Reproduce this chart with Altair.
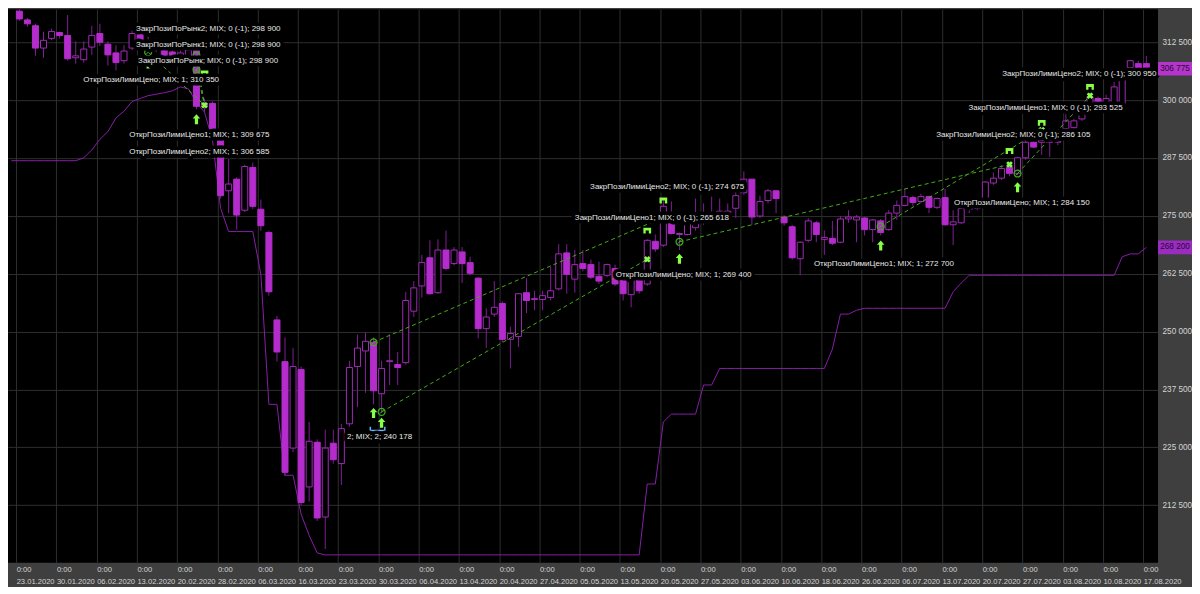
import json
import altair as alt
import pandas as pd

# ---------------- data ----------------
OPEN = [319211, 317323, 316065, 311242, 313339, 314597, 313968, 309145, 308726, 311452,
        314388, 312081, 310194, 308516, 311242, 314178, 311242, 311242, 310823, 310403,
        308726, 309145, 310823, 298660, 299289, 291320, 280416, 282933, 276222, 285449,
        276432, 271399, 252526, 243509, 224845, 241832, 216457, 226104, 209957, 225894,
        221490, 230088, 242460, 245816, 247703, 236589, 243509, 242880, 243299, 254413,
        259866, 265947, 258398, 267624, 264689, 267205, 264898, 261543, 250639, 253784,
        256091, 248332, 248961, 258398, 256930, 256930, 257349, 259236, 266995, 261334,
        264689, 264479, 261963, 262172, 263640, 261124, 257978, 261334, 260285, 269512,
        268673, 273706, 270980, 270980, 272448, 275174, 273915, 275174, 275174, 276642,
        279997, 282933, 274964, 278319, 280416, 274754, 272657, 265737, 269721, 273496,
        269931, 270141, 269302, 274335, 274125, 274545, 272028, 273915, 272028, 275593,
        277271, 278948, 278109, 279158, 276851, 278948, 273077, 273496, 276432, 276642,
        278529, 282094, 283142, 285449, 284191, 287546, 290901, 290901, 290901, 290901,
        293837, 294047, 295934, 299289, 300338, 299079, 299079, 299289, 307048, 307887,
        307887]
HIGH = [319630, 317743, 316485, 314807, 315436, 314807, 318372, 312710, 312710, 316065,
        316485, 312710, 311871, 311871, 315017, 314807, 313759, 313339, 311661, 311242,
        310823, 311661, 311661, 300338, 299709, 292159, 287546, 283352, 286078, 286497,
        278529, 271818, 253365, 248751, 246445, 242460, 230507, 226733, 228830, 228830,
        230088, 243719, 249381, 249800, 248751, 243719, 249381, 245606, 258607, 260914,
        266576, 269721, 269931, 271818, 268254, 268254, 266156, 261753, 255042, 260914,
        256510, 251058, 258188, 261543, 258817, 258817, 264060, 268883, 268883, 267624,
        267624, 265527, 265108, 264689, 264479, 261753, 261753, 263011, 269931, 270980,
        278319, 278109, 271399, 275593, 278739, 277690, 279158, 278739, 277690, 281255,
        284610, 282933, 279368, 280836, 280626, 275174, 273077, 269512, 274545, 273915,
        271818, 273915, 274964, 276222, 275174, 274754, 274335, 274335, 276222, 278319,
        280836, 279368, 279787, 279368, 278948, 280836, 276222, 277061, 277690, 278739,
        282513, 284400, 285868, 286497, 287756, 291320, 291320, 293837, 293837, 292369,
        297192, 295934, 299079, 301596, 300757, 301176, 303903, 304951, 308726, 308516,
        309564]
LOW = [317114, 315855, 309564, 309145, 312920, 313339, 308516, 307887, 308097, 309774,
       311661, 307467, 306419, 307887, 310823, 312291, 310194, 310403, 308726, 308097,
       307467, 308097, 298031, 297402, 292998, 278739, 275593, 272028, 275803, 276432,
       271818, 257769, 243509, 218764, 224006, 212473, 213312, 209118, 203037, 221490,
       216877, 229459, 233653, 236799, 234283, 232395, 238477, 238477, 242880, 253155,
       257349, 257978, 258188, 263221, 264269, 260495, 262172, 248542, 246445, 253155,
       247703, 242041, 246654, 253994, 254623, 254623, 256720, 258817, 258188, 258398,
       263011, 261334, 260285, 261753, 259866, 256720, 255252, 258188, 259866, 267205,
       268254, 270980, 267624, 270770, 271818, 273077, 273496, 274754, 274754, 274545,
       279578, 273077, 274545, 277690, 275593, 272867, 265527, 262172, 269302, 269302,
       266576, 268673, 269092, 273496, 269302, 270770, 269302, 270770, 271818, 274125,
       277061, 277061, 277690, 275593, 276432, 272867, 268673, 273286, 275593, 276222,
       277690, 281674, 282723, 283562, 283771, 287127, 289643, 288175, 287756, 290272,
       293418, 293837, 295515, 298660, 299079, 298660, 298660, 299079, 306629, 306629,
       306419]
CLOSE = [317533, 316485, 311242, 312920, 314807, 313968, 308935, 309564, 311032, 313968,
         312500, 309774, 308097, 310613, 314388, 312920, 312710, 312710, 309564, 309145,
         310194, 310823, 298660, 299289, 293837, 279368, 281884, 275174, 285659, 277061,
         272867, 258607, 245606, 219603, 242460, 213102, 226313, 209747, 224845, 222329,
         229040, 242251, 246445, 247913, 237219, 242041, 243719, 242251, 256720, 259446,
         264898, 258188, 267624, 263640, 267624, 264689, 262592, 250639, 253155, 255252,
         248332, 249590, 258188, 256720, 257139, 257769, 258817, 266786, 262382, 264479,
         263640, 261753, 260914, 264479, 260285, 258188, 261543, 258817, 269721, 267834,
         277061, 271189, 271189, 274545, 274964, 273915, 275593, 276012, 276012, 279368,
         282933, 274754, 278109, 280416, 278739, 273496, 265947, 269302, 273915, 270980,
         270350, 269092, 274335, 274754, 274754, 272028, 274125, 271399, 275593, 277271,
         279158, 277900, 279158, 276851, 278739, 273077, 273706, 276642, 276851, 278109,
         282303, 283142, 285239, 284191, 287546, 290901, 289853, 291320, 291320, 291111,
         295515, 295515, 298031, 300757, 299289, 300338, 302854, 304532, 308516, 307048,
         306775]
# trailing line: one value for the bar before the first visible candle, then one per bar
TRAIL = [286917,
         286917, 286917, 286917, 286917, 286917, 286917, 286917, 286917, 287546, 289223,
         291530, 293208, 296144, 297612, 299709, 300338, 300967, 301281, 301596, 302015,
         302854, 302435, 299499, 297402, 291320, 276642, 271609, 271609, 271609, 271609,
         262382, 234283, 234283, 218974, 218974, 210586, 205973, 202198, 201777, 201777,
         201777, 201777, 201777, 201777, 201777, 201777, 201777, 201777, 201777, 201777,
         201777, 201777, 201777, 201777, 201777, 201777, 201777, 201777, 201777, 201777,
         201777, 201777, 201777, 201777, 201777, 201777, 201777, 201777, 201777, 201777,
         201777, 201777, 201777, 201777, 201777, 201777, 201777, 201777, 217086, 217086,
         230507, 232185, 232185, 232185, 232185, 238477, 238477, 242041, 242041, 242041,
         242041, 242041, 242041, 242041, 242041, 242041, 242041, 242041, 242041, 242041,
         242041, 246236, 253784, 253784, 254623, 255042, 255042, 255042, 255042, 255042,
         255042, 255042, 255042, 255042, 255042, 255042, 258607, 260495, 262172, 262172,
         262172, 262172, 262172, 262172, 262172, 262172, 262172, 262172, 262172, 262172,
         262172, 262172, 262172, 262172, 262172, 262172, 262172, 266156, 266786, 266786,
         268200]

DATES = ["23.01.2020", "30.01.2020", "06.02.2020", "13.02.2020", "20.02.2020",
         "28.02.2020", "06.03.2020", "16.03.2020", "23.03.2020", "30.03.2020",
         "06.04.2020", "13.04.2020", "20.04.2020", "27.04.2020", "05.05.2020",
         "13.05.2020", "20.05.2020", "27.05.2020", "03.06.2020", "10.06.2020",
         "18.06.2020", "26.06.2020", "06.07.2020", "13.07.2020", "20.07.2020",
         "27.07.2020", "03.08.2020", "10.08.2020", "17.08.2020"]
TIME_LABEL = "0:00"
Y_TICKS = [212500, 225000, 237500, 250000, 262500, 275000, 287500, 300000, 312500]

# trades: entry bar/price -> exit bar/price
ENTRY_BAR = [16, 22, 22, 44, 45, 82, 107, 124]
ENTRY_PRICE = [310350, 309675, 306585, 247700, 232656, 269400, 272700, 284150]
EXIT_BAR = [23, 23, 23, 80, 78, 123, 127, 133]
EXIT_PRICE = [298900, 298900, 298900, 274675, 265618, 286105, 293525, 300950]

ARROW_BAR = [16, 22, 44, 45, 82, 107, 124]
ARROW_PRICE = [307887, 295871, 232395, 230297, 265737, 268603, 281192]
FLAG_BAR = [23, 78, 80, 123, 127, 133]
FLAG_PRICE = [305790, 271818, 278319, 289014, 295095, 302854]
BRACKET_BAR = [43.6, 43.6, 45.4, 45.4]
BRACKET_PRICE = [229459, 228620, 228620, 229459]

LABEL_TEXT = [
    "ЗакрПозиПоРынк2; MIX; 0 (-1); 298 900",
    "ЗакрПозиПоРынк1; MIX; 0 (-1); 298 900",
    "ЗакрПозиПоРынк; MIX; 0 (-1); 298 900",
    "ОткрПозиЛимиЦено; MIX; 1; 310 350",
    "ОткрПозиЛимиЦено1; MIX; 1; 309 675",
    "ОткрПозиЛимиЦено2; MIX; 1; 306 585",
    "2; MIX; 2; 240 178",
    "ЗакрПозиЛимиЦено2; MIX; 0 (-1); 274 675",
    "ЗакрПозиЛимиЦено1; MIX; 0 (-1); 265 618",
    "ОткрПозиЛимиЦено; MIX; 1; 269 400",
    "ОткрПозиЛимиЦено1; MIX; 1; 272 700",
    "ОткрПозиЛимиЦено; MIX; 1; 284 150",
    "ЗакрПозиЛимиЦено2; MIX; 0 (-1); 286 105",
    "ЗакрПозиЛимиЦено1; MIX; 0 (-1); 293 525",
    "ЗакрПозиЛимиЦено2; MIX; 0 (-1); 300 950",
]
LABEL_BAR = [14.5, 14.5, 14.75, 7.95, 13.65, 13.65, 40.7, 70.9, 69.0, 74.1, 98.7,
             116.1, 113.9, 117.9, 122.1]
LABEL_PRICE = [315436, 311871, 308516, 304322, 292369, 288804, 227152, 281255, 274545,
               262172, 264689, 277690, 292369, 298241, 305580]

TAG_PRICE = [306775, 268200]
TAG_TEXT = ["306 775", "268 200"]
TAG_COLOR = ["#b434cc", "#9a2cc2"]

# ---------------- styling ----------------
FONT = "Liberation Sans, Arial, sans-serif"
BG = "#3f3f3f"
GRID = "#2e2e2e"
AXIS_TXT = "#d4d4d4"
BODY = "#b42ccc"
HOLLOW = "#a02ab6"
WICK = "#7e1f94"
TRAIL_C = "#861fa8"
DASH = "#45a81c"
BRIGHT = "#86ff46"
CIRC = "#3fae1f"
TXT = "#e8e8e8"

XDOM = [-0.79, 140.83]
YDOM = [200070, 319630]

n = len(CLOSE)
bars = pd.DataFrame({"idx": list(range(n)), "open": OPEN, "high": HIGH, "low": LOW,
                     "close": CLOSE})
trail_df = pd.DataFrame({"idx": list(range(-1, n)), "trail": TRAIL})

label_expr = "['" + TIME_LABEL + "', " + json.dumps(DATES) + "[round((datum.value + 0.4) / 5)]]"
xaxis = alt.Axis(values=[5 * i - 0.4 for i in range(len(DATES))], labelExpr=label_expr,
                 title=None, grid=True, gridColor=GRID, gridWidth=1, ticks=False,
                 domain=False, labelAlign="left", labelBaseline="top", labelPadding=3,
                 labelColor=AXIS_TXT, labelFont=FONT, labelFontSize=7.6,
                 labelLineHeight=11.5, labelOverlap=False, labelFlush=False,
                 labelBound=False, minExtent=24, maxExtent=24)
yaxis = alt.Axis(values=Y_TICKS, orient="right",
                 labelExpr="replace(format(datum.value, ','), ',', ' ')",
                 title=None, grid=True, gridColor=GRID, gridWidth=1, ticks=False,
                 domain=False, labelPadding=4, labelColor=AXIS_TXT, labelFont=FONT,
                 labelFontSize=8.2, labelAlign="left", labelBaseline="middle",
                 minExtent=33, maxExtent=33)


def X(field):
    return alt.X(field, type="quantitative",
                 scale=alt.Scale(domain=XDOM, nice=False, zero=False), axis=xaxis)


def Y(field):
    return alt.Y(field, type="quantitative",
                 scale=alt.Scale(domain=YDOM, nice=False, zero=False), axis=yaxis)


base = alt.Chart(bars)
trail = alt.Chart(trail_df).mark_line(color=TRAIL_C, strokeWidth=1, clip=True).encode(
    x=X("idx"), y=Y("trail"))
wicks = base.mark_rule(color=WICK, strokeWidth=1).encode(x=X("idx"), y=Y("low"), y2="high")
bodies = base.mark_bar(size=6, strokeWidth=1).encode(
    x=X("idx"), y=Y("open"), y2="close",
    fill=alt.condition("datum.close >= datum.open", alt.value("#000000"), alt.value(BODY)),
    stroke=alt.condition("datum.close >= datum.open", alt.value(HOLLOW), alt.value(BODY)),
)

rows = []
for k, (eb, ep, xb, xp) in enumerate(zip(ENTRY_BAR, ENTRY_PRICE, EXIT_BAR, EXIT_PRICE)):
    rows.append({"trade": k, "seq": 0, "idx": eb, "price": ep})
    rows.append({"trade": k, "seq": 1, "idx": xb, "price": xp})
trades = pd.DataFrame(rows)
trade_lines = alt.Chart(trades).mark_line(color=DASH, strokeWidth=1, strokeDash=[4, 3]).encode(
    x=X("idx"), y=Y("price"), detail="trade:N", order="seq:Q")

entries = pd.DataFrame({"idx": ENTRY_BAR, "price": ENTRY_PRICE})
circles = alt.Chart(entries).mark_point(shape="circle", size=48, filled=False, color=CIRC,
                                        strokeWidth=1.2, opacity=1).encode(x=X("idx"), y=Y("price"))
slashes = alt.Chart(entries).mark_point(shape="M-0.5,0.5L0.5,-0.5", size=48, filled=False,
                                        color=CIRC, strokeWidth=1, opacity=1).encode(
    x=X("idx"), y=Y("price"))

exits = pd.DataFrame({"idx": EXIT_BAR, "price": EXIT_PRICE}).drop_duplicates()
crosses = alt.Chart(exits).mark_point(shape="cross", angle=45, size=45, filled=True,
                                      color=BRIGHT, opacity=1).encode(x=X("idx"), y=Y("price"))

ARROW_PATH = "M0,-1L0.75,-0.15L0.32,-0.15L0.32,1L-0.32,1L-0.32,-0.15L-0.75,-0.15Z"
arrows = alt.Chart(pd.DataFrame({"idx": ARROW_BAR, "price": ARROW_PRICE})).mark_point(
    shape=ARROW_PATH, size=100, filled=True, color=BRIGHT, opacity=1).encode(
    x=X("idx"), y=Y("price"))

FLAG_PATH = "M-1,-0.75L1,-0.75L1,0.75L0.4,0.75L0.4,0L-0.4,0L-0.4,0.75L-1,0.75Z"
flags = alt.Chart(pd.DataFrame({"idx": FLAG_BAR, "price": FLAG_PRICE})).mark_point(
    shape=FLAG_PATH, size=60, filled=True, color=BRIGHT, opacity=1).encode(
    x=X("idx"), y=Y("price"))

bracket = alt.Chart(pd.DataFrame({"idx": BRACKET_BAR, "price": BRACKET_PRICE,
                                  "seq": [0, 1, 2, 3]})).mark_line(
    color="#62b8ff", strokeWidth=1.5).encode(x=X("idx"), y=Y("price"), order="seq:Q")

labels_df = pd.DataFrame({"idx": LABEL_BAR, "price": LABEL_PRICE, "text": LABEL_TEXT})
halo = alt.Chart(labels_df).mark_text(align="left", baseline="middle", font=FONT,
                                      fontSize=8, color="#000000", stroke="#000000",
                                      strokeWidth=7, strokeJoin="round").encode(
    x=X("idx"), y=Y("price"), text="text:N")
labels = alt.Chart(labels_df).mark_text(align="left", baseline="middle", font=FONT,
                                        fontSize=8, color=TXT).encode(
    x=X("idx"), y=Y("price"), text="text:N")

tags_df = pd.DataFrame({"price": TAG_PRICE, "text": TAG_TEXT, "col": TAG_COLOR})
TAG_PATH = "M-1,-0.4L1,-0.4L1,0.4L-1,0.4Z"
tag_box = alt.Chart(tags_df).mark_point(shape=TAG_PATH, size=1156, filled=True,
                                        opacity=1).encode(
    x=alt.value(1168), y=Y("price"), color=alt.Color("col:N", scale=None))
tag_txt = alt.Chart(tags_df).mark_text(align="center", baseline="middle", font=FONT,
                                       fontSize=8.2, color="#2a0830").encode(
    x=alt.value(1168), y=Y("price"), text="text:N")

chart = alt.layer(trail, wicks, bodies, trade_lines, circles, slashes, crosses, arrows,
                  flags, bracket, halo, labels, tag_box, tag_txt).properties(
    width=1151, height=554, padding=0, background=BG
).configure_view(fill="#000000", strokeWidth=0)

chart.save("out.html", embed_options={"renderer": "svg", "actions": False})
